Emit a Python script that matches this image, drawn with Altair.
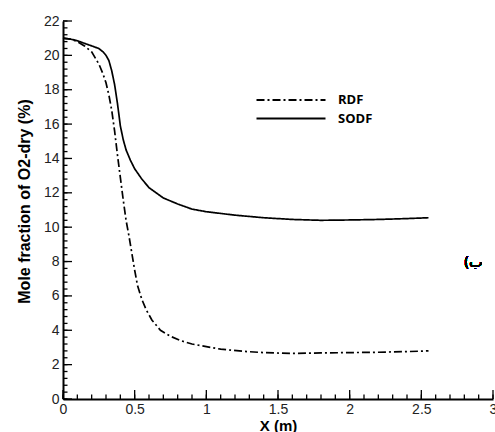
import altair as alt
import pandas as pd

sodf_x = [0, 0.05, 0.1, 0.15, 0.2, 0.25, 0.28, 0.3, 0.32, 0.34, 0.36, 0.38, 0.40, 0.42, 0.44, 0.47,
          0.5, 0.55, 0.6, 0.7, 0.8, 0.9, 1.0, 1.2, 1.4, 1.6, 1.8, 2.0, 2.2, 2.4, 2.55]
sodf_y = [21.0, 20.95, 20.85, 20.7, 20.55, 20.4, 20.2, 20.0, 19.7, 19.1, 18.3, 17.2, 15.9, 15.1, 14.5, 13.9,
          13.4, 12.8, 12.3, 11.7, 11.35, 11.05, 10.9, 10.7, 10.55, 10.45, 10.4, 10.42, 10.45, 10.5, 10.55]

rdf_x = [0, 0.05, 0.1, 0.15, 0.2, 0.25, 0.28, 0.3, 0.32, 0.34, 0.36, 0.38, 0.40, 0.42, 0.44, 0.46, 0.48,
         0.5, 0.52, 0.55, 0.58, 0.62, 0.68, 0.75, 0.82, 0.9, 1.0, 1.1, 1.25, 1.4, 1.6, 1.8, 2.0, 2.2, 2.4, 2.55]
rdf_y = [21.0, 20.95, 20.8, 20.55, 20.2, 19.5, 18.9, 18.4, 17.7, 16.8, 15.6, 14.2, 12.9, 11.6, 10.4, 9.5, 8.5,
         7.5, 6.6, 5.8, 5.2, 4.6, 4.0, 3.65, 3.4, 3.2, 3.05, 2.9, 2.78, 2.7, 2.65, 2.68, 2.7, 2.72, 2.76, 2.8]

x_major = [0, 0.5, 1, 1.5, 2, 2.5, 3]
x_minor = [i / 10 for i in range(31)]
y_major = [0, 2, 4, 6, 8, 10, 12, 14, 16, 18, 20, 22]
y_minor = [round(i * 0.4, 1) for i in range(56)]

rows = [{"x": a, "y": b, "series": "RDF"} for a, b in zip(rdf_x, rdf_y)] + \
       [{"x": a, "y": b, "series": "SODF"} for a, b in zip(sodf_x, sodf_y)]
df = pd.DataFrame(rows)

xs = alt.Scale(domain=[0, 3], nice=False, zero=False)
ys = alt.Scale(domain=[0, 22], nice=False, zero=False)
FONT = "Liberation Sans"

main_x = alt.Axis(values=x_major, format="~g", tickSize=0, domainColor="black", domainWidth=2,
                  labelFont=FONT, labelFontSize=14, labelColor="#222", labelPadding=3, grid=False,
                  labelOverlap=False, title="X (m)", titleFont=FONT, titleFontSize=15,
                  titleFontWeight="bold", titleColor="black", titlePadding=2, labelFlush=False)
main_y = alt.Axis(values=y_major, format="~g", tickSize=0, domainColor="black", domainWidth=2,
                  labelFont=FONT, labelFontSize=14, labelColor="#222", labelPadding=4, grid=False,
                  labelOverlap=False, title="Mole fraction of O2-dry (%)", titleFont=FONT,
                  titleFontSize=16, titleFontWeight="bold", titleColor="black", titlePadding=11,
                  titleY=180)

lines = alt.Chart(df).mark_line(color="black", strokeWidth=1.7).encode(
    x=alt.X("x:Q", scale=xs, axis=main_x),
    y=alt.Y("y:Q", scale=ys, axis=main_y),
    strokeDash=alt.StrokeDash("series:N",
        scale=alt.Scale(domain=["RDF", "SODF"], range=[[8, 3, 2, 3], [1, 0]]),
        legend=alt.Legend(title=None, orient="none", legendX=221, legendY=72,
                          symbolType="M-5.75,0H5.75", symbolSize=144, symbolStrokeWidth=2,
                          symbolStrokeColor="black", labelFont="Open Sans", labelFontSize=13,
                          labelFontWeight="bold", labelColor="black", rowPadding=4.5,
                          labelOffset=40, padding=0)),
    detail="series:N",
)

# inward tick marks, positioned through the scales
xmaj = pd.DataFrame({"v": x_major})
xmin = pd.DataFrame({"v": x_minor})
ymaj = pd.DataFrame({"v": y_major})
ymin = pd.DataFrame({"v": y_minor})

def xticks(d, size):
    return alt.Chart(d).mark_rule(color="black", strokeWidth=1.3).encode(
        x=alt.X("v:Q", scale=xs, axis=main_x), y=alt.value(378), y2=alt.value(378 - size))

def yticks(d, size):
    return alt.Chart(d).mark_rule(color="black", strokeWidth=1.3).encode(
        y=alt.Y("v:Q", scale=ys, axis=main_y), x=alt.value(0), x2=alt.value(size))

note = alt.Chart(df).mark_text(text="(ب", font="DejaVu Sans", fontSize=14, color="black").encode(
    x=alt.value(410), y=alt.value(242))

chart = alt.layer(
    lines, xticks(xmin, 4.5), xticks(xmaj, 9), yticks(ymin, 4.5), yticks(ymaj, 9), note
).properties(
    width=430, height=378,
    autosize=alt.AutoSizeParams(type="none"),
    padding={"left": 63, "top": 21, "right": 2, "bottom": 33},
).configure_view(stroke=None)

chart.save("out.html", embed_options={"renderer": "svg", "actions": False})
